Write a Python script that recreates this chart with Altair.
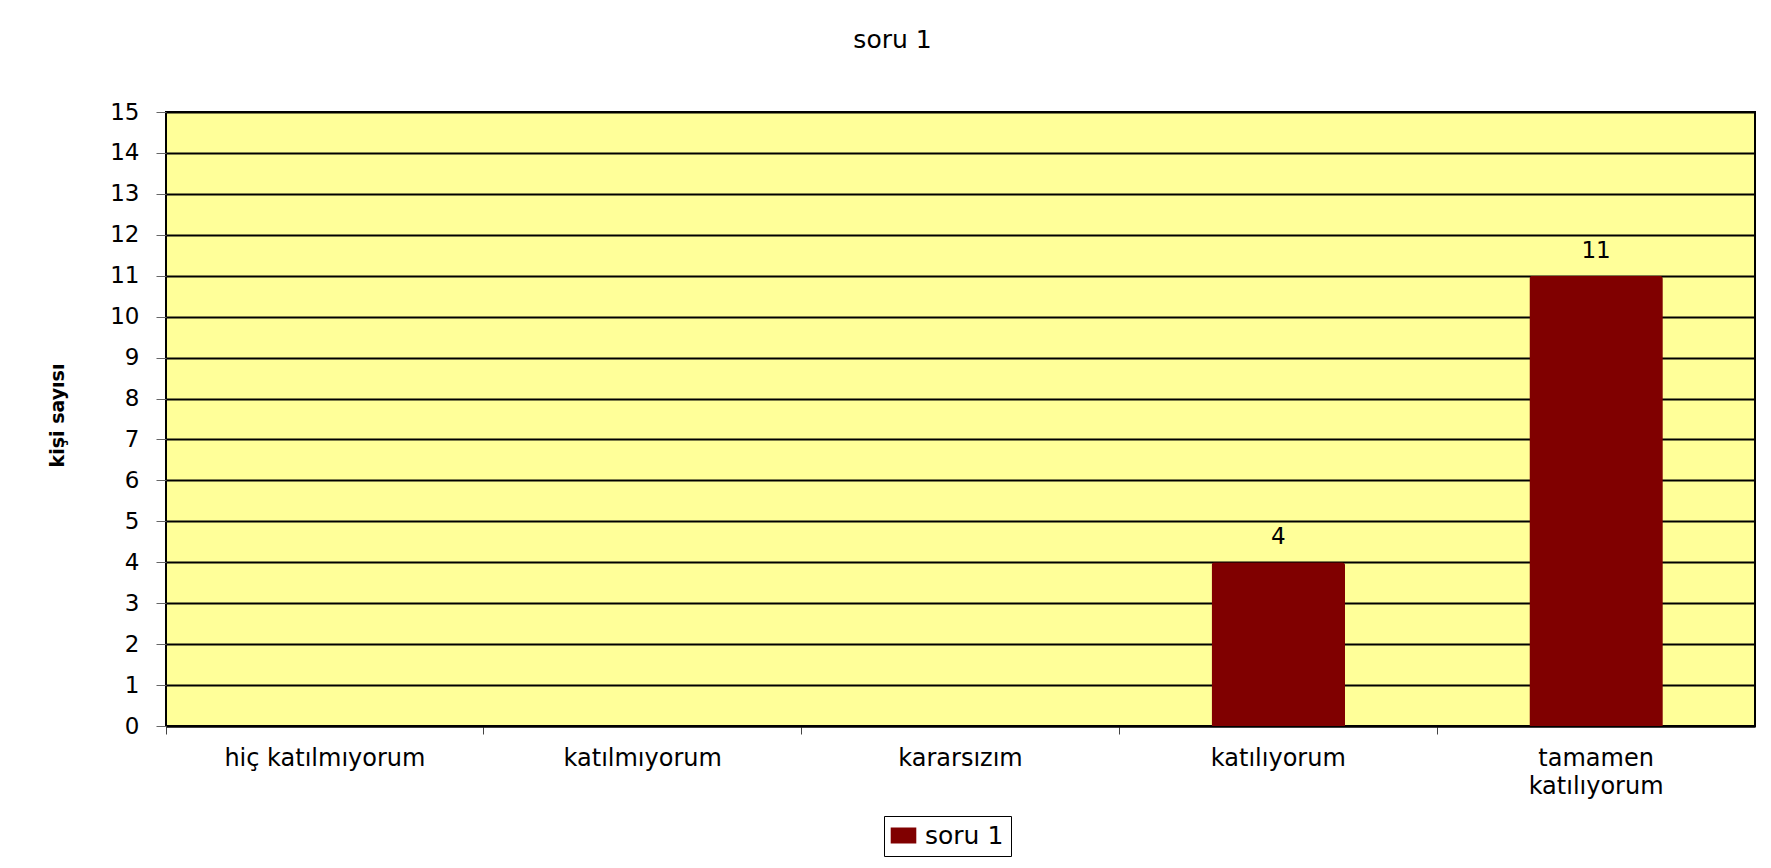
import altair as alt
import pandas as pd

categories = ["hiç katılmıyorum", "katılmıyorum", "kararsızım", "katılıyorum", "tamamen katılıyorum"]
values = [0, 0, 0, 4, 11]
series = ["soru 1"] * 5
y_ticks = list(range(0, 16))

df = pd.DataFrame({"cat": categories, "value": values, "series": series})

FONT = "DejaVu Sans"

x_enc = alt.X(
    "cat:N",
    sort=categories,
    title=None,
    scale=alt.Scale(paddingInner=0, paddingOuter=0),
    axis=alt.Axis(
        bandPosition=0,
        labelAngle=0,
        labelFont=FONT,
        labelFontSize=24,
        labelColor="black",
        labelPadding=12,
        labelLineHeight=28,
        labelLimit=500,
        labelExpr="datum.label == 'tamamen katılıyorum' ? ['tamamen', 'katılıyorum'] : datum.label",
        tickSize=8,
        tickColor="#444",
        domainColor="black",
        domainWidth=2,
        grid=False,
    ),
)

y_enc = alt.Y(
    "value:Q",
    title="kişi sayısı",
    scale=alt.Scale(domain=[0, 15], nice=False),
    axis=alt.Axis(
        values=y_ticks,
        labelFont=FONT,
        labelFontSize=23,
        labelColor="black",
        labelPadding=17,
        tickSize=10,
        tickColor="#666",
        domain=False,
        grid=True,
        gridColor="black",
        gridWidth=2,
        titleFont=FONT,
        titleFontSize=19,
        titleFontWeight="bold",
        titleColor="black",
        titleAngle=-90,
        titleX=-109,
        titleY=303,
        titleAlign="center",
        titleBaseline="middle",
    ),
)

bars = alt.Chart(df).mark_bar(
    width=alt.RelativeBandSize(0.42),
    cornerRadiusTopLeft=3,
    cornerRadiusTopRight=3,
).encode(
    x=x_enc,
    y=y_enc,
    color=alt.Color(
        "series:N",
        scale=alt.Scale(domain=["soru 1"], range=["#800000"]),
        legend=alt.Legend(
            title=None,
            orient="none",
            legendX=718,
            legendY=704,
            strokeColor="black",
            fillColor="white",
            padding=7,
            labelFont=FONT,
            labelFontSize=25,
            labelColor="black",
            labelOffset=9,
            symbolType="M-1.6,-1L1.6,-1L1.6,1L-1.6,1Z",
            symbolSize=256,
            symbolStrokeWidth=0,
        ),
    ),
)

labels = alt.Chart(df).transform_filter("datum.value > 0").mark_text(
    baseline="bottom", dy=-13, font=FONT, fontSize=23, color="black"
).encode(
    x=alt.X("cat:N", sort=categories),
    y=alt.Y("value:Q"),
    text=alt.Text("value:Q"),
)

chart = alt.layer(bars, labels).properties(
    width=1589,
    height=614,
    background="white",
    autosize=alt.AutoSizeParams(type="none"),
    padding={"left": 158, "top": 104, "right": 8, "bottom": 132},
    title=alt.TitleParams(
        "soru 1",
        font=FONT,
        fontSize=25,
        fontWeight="normal",
        color="black",
        anchor="middle",
        dx=-68,
        offset=48,
    ),
).configure_view(
    fill="#FFFF99",
    stroke="black",
    strokeWidth=2,
)

chart.save("out.html", embed_options={"renderer": "svg", "actions": False})
